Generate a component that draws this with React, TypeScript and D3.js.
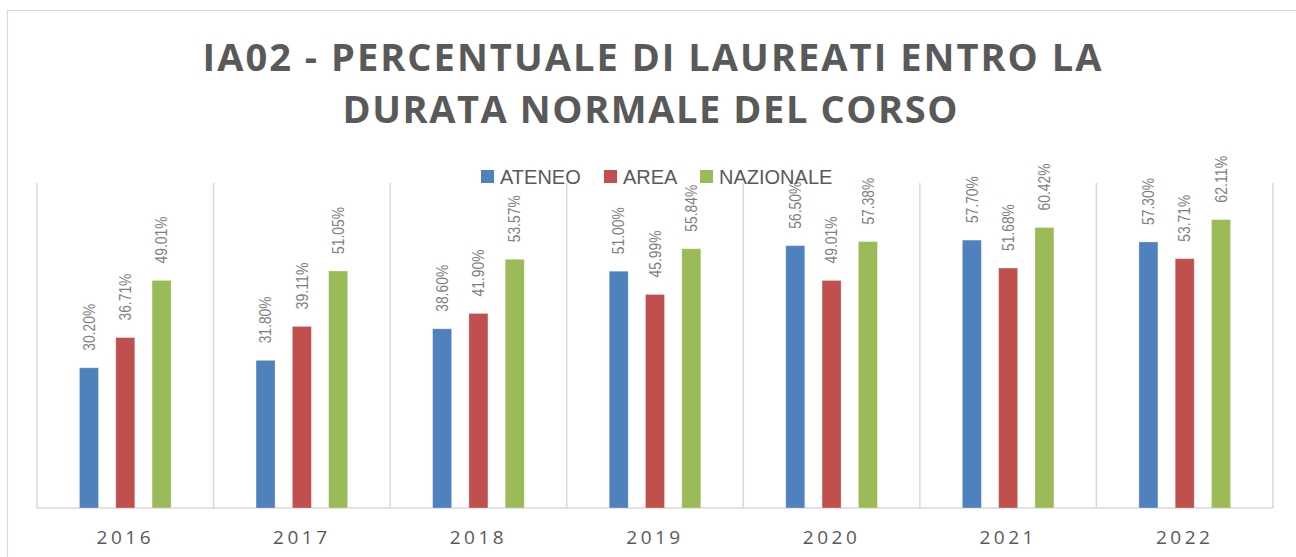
import React from 'react';
import * as d3 from 'd3';

const years = ['2016', '2017', '2018', '2019', '2020', '2021', '2022'];
const ateneo = [30.2, 31.8, 38.6, 51.0, 56.5, 57.7, 57.3];
const area = [36.71, 39.11, 41.9, 45.99, 49.01, 51.68, 53.71];
const nazionale = [49.01, 51.05, 53.57, 55.84, 57.38, 60.42, 62.11];
const seriesNames = ['ATENEO', 'AREA', 'NAZIONALE'];
const seriesColors = ['#4f81bd', '#c0504d', '#9bbb59'];
const titleLines = ['IA02 - PERCENTUALE DI LAUREATI ENTRO LA', 'DURATA NORMALE DEL CORSO'];

const W = 1296;
const H = 557;
const plot = { left: 37, right: 1273, top: 183, bottom: 508 };

const App: React.FC = () => {
  const series = [ateneo, area, nazionale];

  const x = d3.scaleBand<string>().domain(years).range([plot.left, plot.right]);
  const y = d3.scaleLinear().domain([0, 70]).range([plot.bottom, plot.top]);
  // bar width ~19px, spacing between bar centres ~36px
  const barW = 19;
  const pitch = 36.3;

  const grey = '#595959';
  const labelGrey = '#7f7f7f';
  const gridColor = '#d9d9d9';

  const legendItems = [
    { sq: 481, tx: 500 },
    { sq: 604, tx: 623 },
    { sq: 700, tx: 719 },
  ];

  return (
    <svg width={W} height={H} style={{ position: 'absolute', left: 0, top: 0, background: '#fff' }}>
      <rect x={7.5} y={10.5} width={W + 20} height={H + 20} fill="#fff" stroke={gridColor} strokeWidth={1.2} />

      {/* title */}
      <text x={652} y={71} textAnchor="middle" fontFamily="'Open Sans', sans-serif" fontWeight={700}
        fontSize={38} fill={grey} textLength={899} lengthAdjust="spacing">
        {titleLines[0]}
      </text>
      <text x={650} y={123} textAnchor="middle" fontFamily="'Open Sans', sans-serif" fontWeight={700}
        fontSize={38} fill={grey} textLength={615} lengthAdjust="spacing">
        {titleLines[1]}
      </text>

      {/* category separators */}
      {[...years.map((yr) => x(yr)!), plot.right].map((gx, i) => (
        <line key={i} x1={gx} x2={gx} y1={plot.top} y2={plot.bottom} stroke={gridColor} strokeWidth={1.5} />
      ))}
      <line x1={plot.left} x2={plot.right} y1={plot.bottom} y2={plot.bottom} stroke={gridColor} strokeWidth={1.5} />

      {/* bars + labels */}
      {years.map((yr, i) => {
        const cx = x(yr)! + x.bandwidth() / 2;
        return series.map((vals, s) => {
          const bx = cx + (s - 1) * pitch - barW / 2;
          const top = y(vals[i]);
          const lx = bx + barW / 2;
          const ly = top - 17;
          return (
            <g key={`${yr}-${s}`}>
              <rect x={bx} y={top} width={barW} height={plot.bottom - top} fill={seriesColors[s]}
                stroke="#ffffff" strokeOpacity={0.35} strokeWidth={0.8} />
              <text x={lx} y={ly} transform={`rotate(-90, ${lx}, ${ly})`} dy="0.36em"
                fontFamily="'Liberation Sans', Arial, sans-serif" fontSize={16} fill={labelGrey}
                textLength={47} lengthAdjust="spacingAndGlyphs">
                {vals[i].toFixed(2)}%
              </text>
            </g>
          );
        });
      })}

      {/* x labels */}
      {years.map((yr) => (
        <text key={yr} x={x(yr)! + x.bandwidth() / 2} y={544} textAnchor="middle"
          fontFamily="'Open Sans', sans-serif" fontSize={19} letterSpacing={3.5} fill={grey}>
          {yr}
        </text>
      ))}

      {/* legend */}
      {seriesNames.map((name, s) => (
        <g key={name}>
          <rect x={legendItems[s].sq} y={170} width={13} height={13} fill={seriesColors[s]} />
          <text x={legendItems[s].tx} y={184} fontFamily="'Liberation Sans', Arial, sans-serif" fontSize={20}
            fill={grey}>
            {name}
          </text>
        </g>
      ))}
    </svg>
  );
};

export default App;
